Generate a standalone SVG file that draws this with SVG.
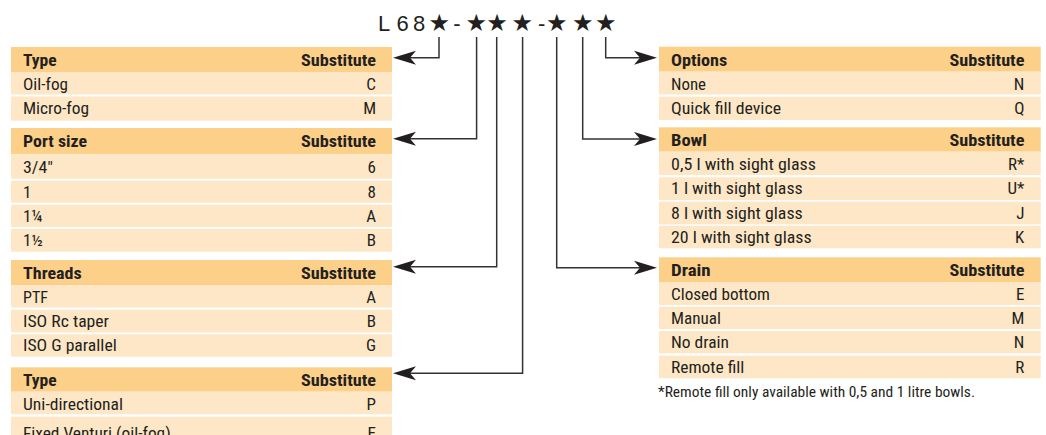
<svg xmlns="http://www.w3.org/2000/svg" width="1046" height="435" viewBox="0 0 1046 435">
<style>
.hd{fill:#FDD08A}
.rw{fill:#FEE7C6}
text{fill:#231F20;font-family:"Liberation Sans Narrow","Roboto Condensed","DejaVu Sans Condensed","Liberation Sans",Arial,sans-serif;font-size:17px}
.b{font-weight:bold}
.v{text-anchor:end}
.ft{font-size:15px}
.ti{font-family:"Liberation Sans",Arial,sans-serif;font-size:22px;text-anchor:middle}
.st{font-family:"DejaVu Sans",sans-serif;font-size:24px;text-anchor:middle}
.con{fill:none;stroke:#333;stroke-width:1.5}
</style>
<defs>
<marker id="ah" markerUnits="userSpaceOnUse" orient="auto" viewBox="-14 -8 25 16" refX="0" refY="0" markerWidth="25" markerHeight="16">
<path d="M10,0 L-13,-7 L-7,0 L-13,7 Z" fill="#231F20"/>
</marker>
</defs>
<rect x="0" y="0" width="1046" height="435" fill="#fff"/>

<g id="code">
<text class="ti" x="384.2" y="30.7">L</text>
<text class="ti" x="402.5" y="30.7">6</text>
<text class="ti" x="419.2" y="30.7">8</text>
<text class="st" x="439.2" y="30.8">★</text>
<text class="ti" x="457" y="30.7">-</text>
<text class="st" x="476.3" y="30.8">★</text>
<text class="st" x="497" y="30.8">★</text>
<text class="st" x="522.3" y="30.8">★</text>
<text class="ti" x="541.7" y="30.7">-</text>
<text class="st" x="556.7" y="30.8">★</text>
<text class="st" x="582.7" y="30.8">★</text>
<text class="st" x="605.7" y="30.8">★</text>
</g>

<g id="connectors">
<path class="con" d="M439,37 V57.7 H403" marker-end="url(#ah)"/>
<path class="con" d="M476.6,37 V138.7 H403" marker-end="url(#ah)"/>
<path class="con" d="M496.7,37 V266.7 H403" marker-end="url(#ah)"/>
<path class="con" d="M522.6,37 V373.3 H403" marker-end="url(#ah)"/>
<path class="con" d="M556.7,37 V267.7 H647" marker-end="url(#ah)"/>
<path class="con" d="M582.7,37 V139 H647" marker-end="url(#ah)"/>
<path class="con" d="M605.7,37 V57.7 H647" marker-end="url(#ah)"/>
</g>

<g id="type">
<rect class="hd" x="11" y="47" width="381" height="25"/>
<text class="b" x="23" y="66" textLength="33.7" lengthAdjust="spacingAndGlyphs">Type</text>
<text class="b v" x="376" y="66" textLength="75" lengthAdjust="spacingAndGlyphs">Substitute</text>
<rect class="rw" x="11" y="72" width="381" height="22.5"/>
<text x="23" y="89.6" textLength="45" lengthAdjust="spacingAndGlyphs">Oil-fog</text>
<text class="v" x="376" y="89.6">C</text>
<rect class="rw" x="11" y="96.5" width="381" height="24.2"/>
<text x="23" y="114.2" textLength="66" lengthAdjust="spacingAndGlyphs">Micro-fog</text>
<text class="v" x="376" y="114.2">M</text>
</g>

<g id="port-size">
<rect class="hd" x="11" y="128" width="381" height="26.3"/>
<text class="b" x="23" y="147" textLength="64" lengthAdjust="spacingAndGlyphs">Port size</text>
<text class="b v" x="376" y="147" textLength="75" lengthAdjust="spacingAndGlyphs">Substitute</text>
<rect class="rw" x="11" y="154.3" width="381" height="24.5"/>
<text x="23" y="173" textLength="30" lengthAdjust="spacingAndGlyphs">3/4"</text>
<text class="v" x="376" y="173">6</text>
<rect class="rw" x="11" y="180.7" width="381" height="22"/>
<text x="23" y="197.5">1</text>
<text class="v" x="376" y="197.5">8</text>
<rect class="rw" x="11" y="204.7" width="381" height="22.3"/>
<text x="23" y="222">1¼</text>
<text class="v" x="376" y="222">A</text>
<rect class="rw" x="11" y="228.8" width="381" height="22.9"/>
<text x="23" y="246.2">1½</text>
<text class="v" x="376" y="246.2">B</text>
</g>

<g id="threads">
<rect class="hd" x="11" y="260" width="381" height="25"/>
<text class="b" x="23" y="278.8" textLength="58.7" lengthAdjust="spacingAndGlyphs">Threads</text>
<text class="b v" x="376" y="278.8" textLength="75" lengthAdjust="spacingAndGlyphs">Substitute</text>
<rect class="rw" x="11" y="285" width="381" height="22.5"/>
<text x="23" y="303.3" textLength="25" lengthAdjust="spacingAndGlyphs">PTF</text>
<text class="v" x="376" y="303.3">A</text>
<rect class="rw" x="11" y="309.7" width="381" height="22.6"/>
<text x="23" y="327" textLength="86" lengthAdjust="spacingAndGlyphs">ISO Rc taper</text>
<text class="v" x="376" y="327">B</text>
<rect class="rw" x="11" y="334.3" width="381" height="22.4"/>
<text x="23" y="351.3" textLength="93.7" lengthAdjust="spacingAndGlyphs">ISO G parallel</text>
<text class="v" x="376" y="351.3">G</text>
</g>

<g id="type-2">
<rect class="hd" x="11" y="367.3" width="381" height="24.4"/>
<text class="b" x="23" y="385.8" textLength="33.7" lengthAdjust="spacingAndGlyphs">Type</text>
<text class="b v" x="376" y="385.8" textLength="75" lengthAdjust="spacingAndGlyphs">Substitute</text>
<rect class="rw" x="11" y="391.7" width="381" height="22.6"/>
<text x="23" y="409.9" textLength="100" lengthAdjust="spacingAndGlyphs">Uni-directional</text>
<text class="v" x="376" y="409.9">P</text>
<rect class="rw" x="11" y="416.7" width="381" height="24"/>
<text x="23" y="439" textLength="147.7" lengthAdjust="spacingAndGlyphs">Fixed Venturi (oil-fog)</text>
<text class="v" x="376" y="439">E</text>
</g>

<g id="options">
<rect class="hd" x="659" y="46.7" width="381.7" height="25"/>
<text class="b" x="671" y="65.8" textLength="56.3" lengthAdjust="spacingAndGlyphs">Options</text>
<text class="b v" x="1024.4" y="65.8" textLength="75" lengthAdjust="spacingAndGlyphs">Substitute</text>
<rect class="rw" x="659" y="71.7" width="381.7" height="22.8"/>
<text x="671" y="89.8" textLength="35" lengthAdjust="spacingAndGlyphs">None</text>
<text class="v" x="1024.4" y="89.8">N</text>
<rect class="rw" x="659" y="96.7" width="381.7" height="23.3"/>
<text x="671" y="113.9" textLength="110" lengthAdjust="spacingAndGlyphs">Quick fill device</text>
<text class="v" x="1024.4" y="113.9">Q</text>
</g>

<g id="bowl">
<rect class="hd" x="659" y="127.3" width="381.7" height="24.4"/>
<text class="b" x="671" y="145.8" textLength="36" lengthAdjust="spacingAndGlyphs">Bowl</text>
<text class="b v" x="1024.4" y="145.8" textLength="75" lengthAdjust="spacingAndGlyphs">Substitute</text>
<rect class="rw" x="659" y="151.7" width="381.7" height="23.3"/>
<text x="671" y="169.8" textLength="145" lengthAdjust="spacingAndGlyphs">0,5 l with sight glass</text>
<text class="v" x="1024.4" y="169.8">R*</text>
<rect class="rw" x="659" y="177.3" width="381.7" height="22.7"/>
<text x="671" y="194.3" textLength="131.7" lengthAdjust="spacingAndGlyphs">1 l with sight glass</text>
<text class="v" x="1024.4" y="194.3">U*</text>
<rect class="rw" x="659" y="201.7" width="381.7" height="22.6"/>
<text x="671" y="218.6" textLength="131.7" lengthAdjust="spacingAndGlyphs">8 l with sight glass</text>
<text class="v" x="1024.4" y="218.6">J</text>
<rect class="rw" x="659" y="225.7" width="381.7" height="22.6"/>
<text x="671" y="242.6" textLength="140.7" lengthAdjust="spacingAndGlyphs">20 l with sight glass</text>
<text class="v" x="1024.4" y="242.6">K</text>
</g>

<g id="drain">
<rect class="hd" x="659" y="257.3" width="381.7" height="24.7"/>
<text class="b" x="671" y="275.9" textLength="39.7" lengthAdjust="spacingAndGlyphs">Drain</text>
<text class="b v" x="1024.4" y="275.9" textLength="75" lengthAdjust="spacingAndGlyphs">Substitute</text>
<rect class="rw" x="659" y="282" width="381.7" height="23"/>
<text x="671" y="299.9" textLength="99" lengthAdjust="spacingAndGlyphs">Closed bottom</text>
<text class="v" x="1024.4" y="299.9">E</text>
<rect class="rw" x="659" y="306.7" width="381.7" height="22.3"/>
<text x="671" y="323.6" textLength="50" lengthAdjust="spacingAndGlyphs">Manual</text>
<text class="v" x="1024.4" y="323.6">M</text>
<rect class="rw" x="659" y="331" width="381.7" height="22.3"/>
<text x="671" y="347.8" textLength="58" lengthAdjust="spacingAndGlyphs">No drain</text>
<text class="v" x="1024.4" y="347.8">N</text>
<rect class="rw" x="659" y="355.7" width="381.7" height="22.6"/>
<text x="671" y="372.6" textLength="73.3" lengthAdjust="spacingAndGlyphs">Remote fill</text>
<text class="v" x="1024.4" y="372.6">R</text>
</g>

<g id="footnote">
<text class="ft" x="658" y="396.5" textLength="317" lengthAdjust="spacingAndGlyphs">*Remote fill only available with 0,5 and 1 litre bowls.</text>
</g>
</svg>
